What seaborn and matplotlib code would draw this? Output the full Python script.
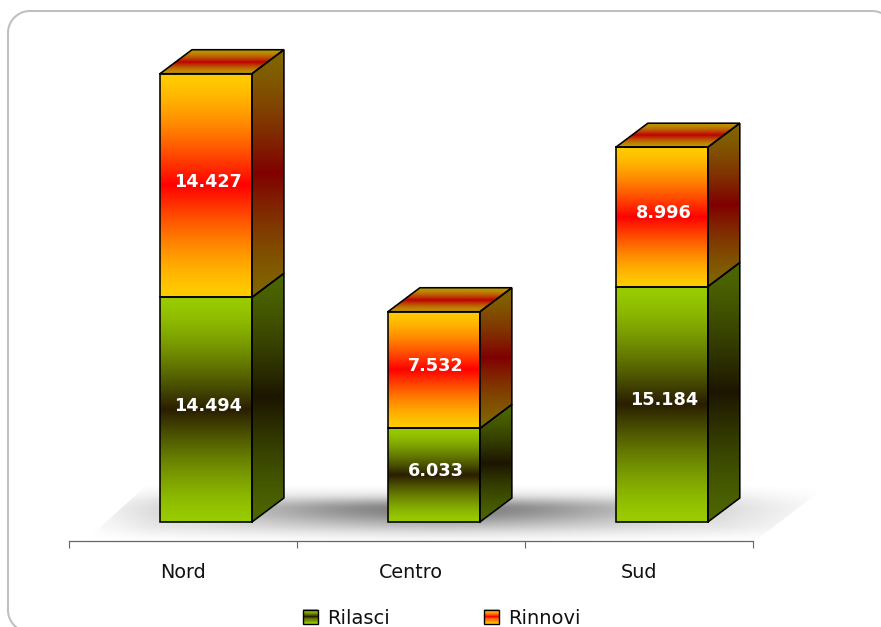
import numpy as np
import pandas as pd
import matplotlib
matplotlib.use("Agg")
import matplotlib.pyplot as plt
import seaborn as sns
from matplotlib.colors import to_rgb
from matplotlib.legend_handler import HandlerPatch
from matplotlib.lines import Line2D
from matplotlib.patches import Patch, Polygon, Rectangle
from matplotlib.transforms import IdentityTransform

categories = ["Nord", "Centro", "Sud"]
rilasci = [14494, 6033, 15184]
rinnovi = [14427, 7532, 8996]
series_names = ["Rilasci", "Rinnovi"]

W, H = 881, 627
sns.set_theme(style="white")
plt.rcParams["font.family"] = ["DejaVu Sans"]

fig = plt.figure(figsize=(W / 100, H / 100), dpi=100, facecolor="white")

# Axes placed in pixel terms: left 69, right 753, axis line 541, top 30
L, R, B, T = 69, 753, 541, 30
ax = fig.add_axes([L / W, 1 - B / H, (R - L) / W, (B - T) / H])
ax.patch.set_alpha(0)

PX_X = 228.0          # pixels per category
PX_Y = 0.0155         # pixels per value unit
XMIN, XMAX = -137 / PX_X, (R - 206) / PX_X
YMIN = -(B - 522) / PX_Y
YMAX = (522 - T) / PX_Y
DX, DY = 32 / PX_X, 24 / PX_Y   # 3D depth
BAR_W = 92 / PX_X

def x_px(px):
    return (px - 206) / PX_X

def y_px(py):
    return (522 - py) / PX_Y

GREEN = ("#99cc00", "#2a1e00")
GOLD = ("#ffcc00", "#ff0000")
SIDE_GREEN = ("#4d6600", "#1c1500")
SIDE_GOLD = ("#806600", "#800000")
TOP_GOLD = ("#bd9700", "#bd0000")

def gradient(stops, n=129, power=1.4):
    a, b = np.array(to_rgb(stops[0])), np.array(to_rgb(stops[1]))
    t = (1 - np.abs(np.linspace(-1, 1, n))) ** power
    arr = a[None, :] * (1 - t[:, None]) + b[None, :] * t[:, None]
    return arr[:, None, :]

def face(poly, stops, power=1.4):
    pts = np.array(poly)
    im = ax.imshow(gradient(stops, power=power), aspect="auto", origin="lower",
                   interpolation="bilinear", zorder=2,
                   extent=(pts[:, 0].min(), pts[:, 0].max(), pts[:, 1].min(), pts[:, 1].max()))
    clip = Polygon(pts, closed=True, transform=ax.transData)
    im.set_clip_path(clip)
    return im

def outline(poly):
    pts = np.array(list(poly) + [poly[0]])
    ax.plot(pts[:, 0], pts[:, 1], color="black", lw=1.15, zorder=4,
            solid_joinstyle="miter", clip_on=False)

# floor shadow
fx = np.linspace(80, 835, 300)
fy = np.linspace(480, 541, 120)
gx, gy = np.meshgrid(fx, fy)
sigma_y = np.where(gy < 509, 7.5, 13.0)
dark = 0.44 * np.exp(-((gx - 440) ** 2) / (2 * 150.0 ** 2)) * np.exp(-((gy - 509) ** 2) / (2 * sigma_y ** 2))
base = (0.07 * np.clip((gx - 85) / 70, 0, 1) * np.clip((835 - gx) / 110, 0, 1)
        * np.clip((541 - gy) / 14, 0, 1) * np.clip((gy - 484) / 16, 0, 1))
alpha = np.clip(dark + base, 0, 1)
rgba = np.zeros(alpha.shape + (4,))
rgba[..., 3] = alpha
floor = ax.imshow(rgba, aspect="auto", origin="upper", zorder=0.5, interpolation="bilinear",
                  extent=(x_px(fx[0]), x_px(fx[-1]), y_px(fy[-1]), y_px(fy[0])))
floor.set_clip_box(fig.bbox)
floor.set_clip_path(Polygon([(x_px(85), y_px(541)), (x_px(148), y_px(484)),
                             (x_px(830), y_px(484)), (x_px(755), y_px(541))],
                            closed=True, transform=ax.transData))

df = pd.DataFrame({"Area": categories, "Rilasci": rilasci, "Rinnovi": rinnovi})
bar_kw = dict(order=categories, width=BAR_W, edgecolor="black", linewidth=1.15, ax=ax, errorbar=None)
sns.barplot(data=df, x="Area", y="Rilasci", color=GREEN[0], **bar_kw)
sns.barplot(data=df, x="Area", y="Rinnovi", bottom=df["Rilasci"].values, color=GOLD[0], **bar_kw)

patches = list(ax.patches)
n = len(categories)
groups = ((GREEN, SIDE_GREEN, patches[:n], rilasci), (GOLD, SIDE_GOLD, patches[n:], rinnovi))
for k, (stops, side_stops, pats, vals) in enumerate(groups):
    for p, v in zip(pats, vals):
        x0, y0, w, h = p.get_x(), p.get_y(), p.get_width(), p.get_height()
        front = [(x0, y0), (x0 + w, y0), (x0 + w, y0 + h), (x0, y0 + h)]
        side = [(x0 + w, y0), (x0 + w + DX, y0 + DY), (x0 + w + DX, y0 + h + DY), (x0 + w, y0 + h)]
        face(front, stops)
        face(side, side_stops)
        outline(side)
        if k == 1:
            top = [(x0, y0 + h), (x0 + w, y0 + h), (x0 + w + DX, y0 + h + DY), (x0 + DX, y0 + h + DY)]
            face(top, TOP_GOLD, power=1.6)
            outline(top)
        p.set_facecolor("none")
        p.set_zorder(5)
        ax.text(x0 + w / 2 + 2 / PX_X, y0 + h / 2 + 4 / PX_Y, f"{v:,}".replace(",", "."),
                ha="center", va="center", color="white", fontsize=12.7, fontweight="bold", zorder=6)

ax.set_xlim(XMIN, XMAX)
ax.set_ylim(YMIN, YMAX)
ax.set_xlabel("")
ax.set_ylabel("")
ax.set_yticks([])
centers = np.arange(n)
ax.set_xticks(np.concatenate([centers - 0.6, [n - 1 + 0.4]]), labels=[""] * (n + 1))
ax.set_xticks(centers - 0.1, labels=categories, minor=True)
ax.tick_params(axis="x", which="major", length=5, width=0.8, color="#666666", bottom=True)
ax.tick_params(axis="x", which="minor", length=0, pad=15.5, labelsize=13.8, labelcolor="#111111")
sns.despine(ax=ax, left=True, top=True, right=True)
ax.spines["bottom"].set_color("#666666")
ax.spines["bottom"].set_linewidth(0.9)

# rounded frame, running off the right and bottom of the picture
FL, FT, FR, FB, RAD = 8, 11, 894, 632, 22
ang = np.linspace(0, np.pi / 2, 24)
arc_x = np.concatenate([FL + RAD - RAD * np.cos(ang), FR - RAD + RAD * np.sin(ang),
                        FR - RAD + RAD * np.cos(ang), FL + RAD - RAD * np.sin(ang)])
arc_y = np.concatenate([FT + RAD - RAD * np.sin(ang), FT + RAD - RAD * np.cos(ang),
                        FB - RAD + RAD * np.sin(ang), FB - RAD + RAD * np.cos(ang)])
fig.add_artist(Line2D(np.r_[arc_x, arc_x[0]], H - np.r_[arc_y, arc_y[0]], color="#c0c0c0", lw=1.5,
                      transform=IdentityTransform(), zorder=-1))

class GradientHandler(HandlerPatch):
    def __init__(self, stops):
        super().__init__()
        self.stops = stops

    def create_artists(self, legend, orig, xd, yd, width, height, fontsize, trans):
        arts = []
        grad = gradient(self.stops, 13)[:, 0, :]
        m = len(grad)
        for i, col in enumerate(grad):
            arts.append(Rectangle((-xd, -yd + height * i / m), width, height / m * 1.1,
                                  facecolor=col, edgecolor="none", transform=trans))
        arts.append(Rectangle((-xd, -yd), width, height, facecolor="none",
                              edgecolor="black", linewidth=1.0, transform=trans))
        return arts

handles = [Patch(label=series_names[0]), Patch(label=series_names[1])]
leg = fig.legend(handles=handles, labels=series_names, ncol=2, frameon=False, loc="center",
                 bbox_to_anchor=(442 / W, 1 - 618 / H), fontsize=14,
                 handlelength=0.75, handleheight=0.75, handletextpad=0.5, columnspacing=4.85,
                 handler_map={handles[0]: GradientHandler(GREEN), handles[1]: GradientHandler(GOLD)},
                 labelcolor="#111111")

fig.savefig("out.png", dpi=100, facecolor="white")
